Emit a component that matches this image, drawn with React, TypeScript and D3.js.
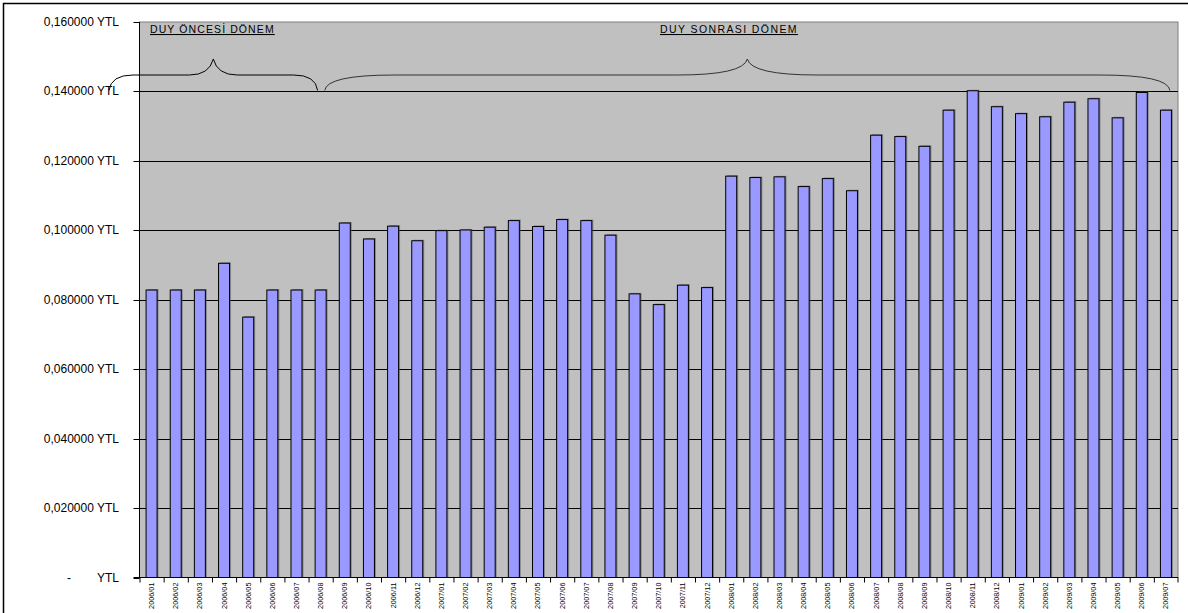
import React from "react";
import * as d3 from "d3";

const months = [
  "2006/01", "2006/02", "2006/03", "2006/04", "2006/05", "2006/06", "2006/07", "2006/08", "2006/09", "2006/10", "2006/11", "2006/12",
  "2007/01", "2007/02", "2007/03", "2007/04", "2007/05", "2007/06", "2007/07", "2007/08", "2007/09", "2007/10", "2007/11", "2007/12",
  "2008/01", "2008/02", "2008/03", "2008/04", "2008/05", "2008/06", "2008/07", "2008/08", "2008/09", "2008/10", "2008/11", "2008/12",
  "2009/01", "2009/02", "2009/03", "2009/04", "2009/05", "2009/06", "2009/07",
];

const prices = [
  0.0828, 0.0828, 0.0828, 0.0905, 0.0750, 0.0828, 0.0828, 0.0828, 0.1021, 0.0975, 0.1012, 0.0970,
  0.0999, 0.1001, 0.1009, 0.1028, 0.1011, 0.1031, 0.1028, 0.0986, 0.0817, 0.0786, 0.0842, 0.0835,
  0.1156, 0.1152, 0.1154, 0.1126, 0.1149, 0.1114, 0.1274, 0.1270, 0.1242, 0.1346, 0.1402, 0.1356,
  0.1336, 0.1327, 0.1369, 0.1379, 0.1324, 0.1397, 0.1346,
];

const yTicks = [0, 0.02, 0.04, 0.06, 0.08, 0.1, 0.12, 0.14, 0.16];

// period brackets: first and last month covered, label
const periods = [
  { label: "DUY ÖNCESİ DÖNEM", from: "2006/01", to: "2006/08" },
  { label: "DUY SONRASI DÖNEM", from: "2006/09", to: "2009/07" },
];

const W = 1188;
const H = 613;
const left = 139.5;
const right = 1178;
const top = 22;
const bottom = 577.5;

const App = () => {
  const x = d3.scaleBand<string>().domain(months).range([left, right]).padding(0);
  const y = d3.scaleLinear().domain([0, 0.16]).range([bottom, top]);
  const step = x.step();
  const barW = 11;
  const fmt = (v: number) => d3.format(".6f")(v).replace(".", ",") + " YTL";

  const brace = (x0: number, x1: number, tip: number, curve: number) => {
    const yb = y(0.14) - 1;
    const ym = 75;
    const yt = 59;
    const p = d3.path();
    p.moveTo(x0, yb);
    p.quadraticCurveTo(x0 + 2, ym, x0 + curve, ym);
    p.lineTo(tip - curve, ym);
    p.quadraticCurveTo(tip - 4, ym, tip, yt);
    p.quadraticCurveTo(tip + 4, ym, tip + curve, ym);
    p.lineTo(x1 - curve, ym);
    p.quadraticCurveTo(x1 - 2, ym, x1, yb);
    return p.toString();
  };

  return (
    <svg
      width={W}
      height={H}
      style={{ position: "absolute", left: 0, top: 0, display: "block", overflow: "hidden" }}
      fontFamily="Arial, 'Liberation Sans', sans-serif"
    >
      <rect x={0} y={0} width={W} height={H} fill="#fff" />
      {/* outer chart frame: only the left and top edges are inside the picture */}
      <path d={`M3.5,${H}V3.5H${W}`} fill="none" stroke="#000" strokeWidth={1.5} />
      <rect x={left} y={top} width={right - left} height={bottom - top} fill="#c0c0c0" stroke="#808080" strokeWidth={1} />

      {yTicks.slice(1, -1).map((t) => (
        <line key={t} x1={left} x2={right} y1={Math.round(y(t)) + 0.5} y2={Math.round(y(t)) + 0.5} stroke="#000" strokeWidth={1} />
      ))}

      {months.map((m, i) => {
        const bx = (x(m) as number) + (step - barW) / 2;
        const by = y(prices[i]);
        return (
          <g key={m}>
            <rect x={bx + 1.5} y={by - 1} width={barW} height={bottom - by + 1} fill="#555" opacity={0.55} />
            <rect x={bx} y={by} width={barW} height={bottom - by} fill="#9999ff" stroke="#000" strokeWidth={1} />
          </g>
        );
      })}

      {/* axes */}
      <line x1={left} x2={left} y1={top} y2={bottom} stroke="#000" />
      <line x1={left - 6} x2={right} y1={bottom} y2={bottom} stroke="#000" />
      {yTicks.map((t) => (
        <line key={t} x1={left - 6} x2={left} y1={Math.round(y(t)) + 0.5} y2={Math.round(y(t)) + 0.5} stroke="#000" />
      ))}
      {months.map((m) => (
        <line key={m} x1={(x(m) as number) + 0.5} x2={(x(m) as number) + 0.5} y1={bottom} y2={bottom + 5} stroke="#000" />
      ))}
      <line x1={right} x2={right} y1={bottom} y2={bottom + 5} stroke="#000" />

      {yTicks.map((t) =>
        t === 0 ? (
          <g key={t} fontSize={12}>
            <text x={67} y={y(t) + 4}>-</text>
            <text x={119} y={y(t) + 4} textAnchor="end">YTL</text>
          </g>
        ) : (
          <text key={t} x={119} y={y(t) + 4} textAnchor="end" fontSize={12}>
            {fmt(t)}
          </text>
        )
      )}

      {months.map((m) => (
        <text
          key={m}
          transform={`translate(${(x(m) as number) + step / 2 + 2.5},${bottom + 5}) rotate(-90)`}
          textAnchor="end"
          fontSize={7.3}
          fontFamily="'Liberation Sans Narrow', Arial, sans-serif"
        >
          {m}
        </text>
      ))}

      {/* period annotations */}
      {periods.map((p, i) => {
        const x0 = i === 0 ? 109 : (x(p.from) as number) - 8;
        const x1 = i === 0 ? (x(p.to) as number) + step / 2 - 3 : (x(p.to) as number) + step / 2 + 4;
        const tip = (x0 + x1) / 2;
        const lx = i === 0 ? 150 : 660;
        return (
          <g key={p.label}>
            <path d={brace(x0, x1, tip, i === 0 ? 24 : 70)} fill="none" stroke={i === 0 ? "#000" : "#333"} strokeWidth={1} />
            <text x={lx} y={33} fontSize={10.5} letterSpacing={i === 0 ? 1.1 : 1.4} textDecoration="underline">
              {p.label}
            </text>
          </g>
        );
      })}
    </svg>
  );
};

export default App;
